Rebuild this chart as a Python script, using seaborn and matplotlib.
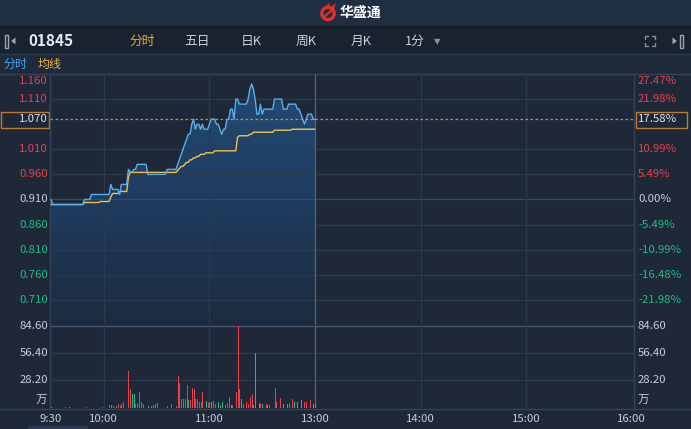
import numpy as np
import matplotlib
matplotlib.use("Agg")
import matplotlib.pyplot as plt
import seaborn as sns
import matplotlib.transforms as mtransforms
from matplotlib.patches import Rectangle, Polygon, Circle
from matplotlib.colors import LinearSegmentedColormap

# ---------------- data ----------------
stock_code = "01845"
prev_close = 0.91
last_price = 1.07
last_pct_label = "17.58%"
price_ticks = [1.160, 1.110, 1.010, 0.960, 0.910, 0.860, 0.810, 0.760, 0.710]
pct_labels = ["27.47%", "21.98%", "10.99%", "5.49%", "0.00%",
              "-5.49%", "-10.99%", "-16.48%", "-21.98%"]
vol_ticks = [84.60, 56.40, 28.20]
vol_tick_labels = ["84.60", "56.40", "28.20"]
vol_unit = "万"
time_ticks = [0, 30, 90, 150, 210, 270, 330]
time_labels = ["9:30", "10:00", "11:00", "13:00", "14:00", "15:00", "16:00"]
tabs = ["分时", "五日", "日K", "周K", "月K", "1分"]
legend_items = ["分时", "均线"]
brand = "华盛通"

minutes = list(range(151))
price = [
    0.91, 0.90, 0.90, 0.90, 0.90, 0.90, 0.90, 0.90, 0.90, 0.90,
    0.90, 0.90, 0.90, 0.90, 0.90, 0.90, 0.90, 0.90, 0.90, 0.91,
    0.91, 0.91, 0.91, 0.92, 0.92, 0.92, 0.92, 0.92, 0.92, 0.92,
    0.92, 0.92, 0.92, 0.92, 0.94, 0.93, 0.93, 0.93, 0.93, 0.92,
    0.94, 0.94, 0.94, 0.94, 0.97, 0.965, 0.965, 0.97, 0.97, 0.98,
    0.98, 0.98, 0.98, 0.98, 0.98, 0.96, 0.96, 0.96, 0.96, 0.96,
    0.96, 0.96, 0.96, 0.96, 0.96, 0.96, 0.97, 0.97, 0.97, 0.97,
    0.97, 0.97, 0.98, 0.99, 1.00, 1.01, 1.02, 1.03, 1.04, 1.04,
    1.06, 1.07, 1.05, 1.06, 1.06, 1.05, 1.06, 1.05, 1.05, 1.05,
    1.06, 1.07, 1.07, 1.07, 1.06, 1.06, 1.05, 1.04, 1.05, 1.05,
    1.07, 1.07, 1.09, 1.09, 1.07, 1.11, 1.11, 1.10, 1.10, 1.10,
    1.10, 1.10, 1.11, 1.13, 1.14, 1.13, 1.11, 1.08, 1.08, 1.10,
    1.08, 1.09, 1.09, 1.09, 1.09, 1.09, 1.09, 1.11, 1.11, 1.11,
    1.11, 1.11, 1.09, 1.09, 1.09, 1.10, 1.10, 1.10, 1.10, 1.10,
    1.09, 1.09, 1.08, 1.07, 1.06, 1.07, 1.08, 1.08, 1.08, 1.07,
    1.07,
]
avg_price = [
    0.900, 0.900, 0.900, 0.900, 0.900, 0.900, 0.900, 0.900, 0.900, 0.900,
    0.900, 0.900, 0.900, 0.900, 0.900, 0.900, 0.900, 0.900, 0.900, 0.904,
    0.904, 0.904, 0.904, 0.904, 0.904, 0.904, 0.904, 0.904, 0.906, 0.906,
    0.906, 0.906, 0.906, 0.906, 0.915, 0.922, 0.922, 0.922, 0.922, 0.926,
    0.926, 0.926, 0.926, 0.926, 0.955, 0.964, 0.964, 0.964, 0.964, 0.964,
    0.964, 0.964, 0.964, 0.964, 0.964, 0.964, 0.964, 0.964, 0.964, 0.964,
    0.964, 0.964, 0.964, 0.964, 0.964, 0.964, 0.964, 0.964, 0.964, 0.964,
    0.964, 0.964, 0.968, 0.972, 0.976, 0.976, 0.980, 0.984, 0.984, 0.989,
    0.989, 0.993, 0.993, 0.996, 0.996, 1.000, 1.000, 1.000, 1.003, 1.003,
    1.003, 1.003, 1.003, 1.007, 1.007, 1.007, 1.007, 1.007, 1.007, 1.007,
    1.007, 1.007, 1.007, 1.007, 1.007, 1.007, 1.034, 1.037, 1.037, 1.037,
    1.037, 1.037, 1.037, 1.040, 1.040, 1.044, 1.044, 1.044, 1.044, 1.044,
    1.044, 1.044, 1.044, 1.044, 1.044, 1.044, 1.044, 1.048, 1.048, 1.048,
    1.048, 1.048, 1.048, 1.048, 1.048, 1.048, 1.048, 1.050, 1.050, 1.050,
    1.050, 1.050, 1.050, 1.050, 1.050, 1.050, 1.050, 1.050, 1.050, 1.050,
    1.050,
]
vol_minute = [0, 8, 10, 20, 29, 33, 34, 35, 37, 38, 39, 40, 41, 44, 45, 46, 47, 48, 49, 50,
              51, 52, 55, 57, 58, 59, 60, 66, 68, 71, 72, 73, 74, 75, 76, 77, 78, 79, 80, 81,
              82, 83, 84, 85, 86, 88, 89, 90, 91, 92, 93, 95, 96, 97, 99, 100, 101, 102, 103, 105,
              106, 107, 108, 109, 111, 112, 113, 114, 115, 116, 118, 119, 120, 122, 123, 124, 127, 128, 130, 132,
              134, 135, 137, 138, 140, 142, 144, 145, 147, 149, 150]
vol_value = [1.0, 1.0, 1.0, 1.0, 1.0, 2.4, 2.4, 1.5, 1.7, 3.4, 2.0, 3.4, 5.2, 38.0, 19.0, 14.0, 14.0, 3.4, 5.0, 16.0,
             6.0, 3.4, 1.7, 1.5, 2.4, 3.4, 4.5, 1.7, 3.4, 1.7, 32.7, 25.8, 9.3, 8.6, 8.6, 23.4, 7.6, 7.6, 20.6, 19.0,
             9.3, 8.6, 5.2, 5.2, 16.5, 6.9, 4.5, 5.2, 5.8, 6.9, 4.1, 5.2, 2.4, 5.2, 2.4, 4.5, 11.4, 2.4, 2.4, 16.5,
             84.6, 19.0, 8.6, 3.4, 5.8, 3.4, 11.0, 13.8, 2.4, 56.1, 4.5, 3.4, 3.4, 3.4, 2.4, 2.4, 20.6, 5.2, 10.0, 3.4,
             3.4, 4.5, 9.3, 5.2, 5.2, 7.6, 5.8, 5.2, 7.6, 3.4, 2.4]
vol_up = [0, 1, 1, 1, 1, 1, 1, 1, 0, 1, 1, 1, 1, 1, 1, 0, 0, 1, 1, 1,
          1, 1, 0, 1, 1, 1, 1, 1, 1, 1, 1, 1, 1, 1, 1, 1, 0, 1, 1, 1,
          1, 1, 1, 1, 1, 0, 1, 1, 0, 1, 1, 0, 1, 0, 1, 1, 1, 0, 1, 1,
          1, 1, 0, 1, 1, 1, 1, 1, 0, 0, 0, 1, 0, 1, 0, 1, 1, 1, 1, 0,
          0, 1, 1, 0, 0, 0, 1, 1, 1, 0, 0]

# ---------------- style ----------------
sns.set_style("dark")
plt.rcParams['font.family'] = ['Noto Sans CJK SC', 'DejaVu Sans']

BG = '#1e2838'
HEAD = '#202e42'
TOOL = '#19222f'
ROW3 = '#1f2a3b'
GRID = '#2c3a4d'
FRAME = '#34445a'
TXT = '#c6cfda'
RED = '#e5424c'
GREEN = '#1bc07f'
BLUE = '#5aaeee'
YEL = '#f0c24c'
ORANGE = '#df8a2e'
FS = 8.2

W, H = 691, 429
fig = plt.figure(figsize=(W / 100, H / 100), dpi=100)
fig.patch.set_facecolor(BG)


def box(l, t, r, b):
    return [l / W, 1 - b / H, (r - l) / W, (b - t) / H]


# background / chrome axes in pixel coordinates
bg = fig.add_axes([0, 0, 1, 1])
bg.set_xlim(0, W)
bg.set_ylim(H, 0)
bg.axis('off')
bg.add_patch(Rectangle((0, 0), W, 26, color=HEAD, lw=0))
bg.add_patch(Rectangle((0, 26), W, 28, color=TOOL, lw=0))
bg.add_patch(Rectangle((0, 54), W, 20, color=ROW3, lw=0))
bg.add_patch(Rectangle((0, 74), W, H - 74, color=BG, lw=0))
bg.plot([0, W], [26, 26], color='#121a25', lw=1)
bg.plot([0, W], [54, 54], color='#2a384b', lw=1)
bg.plot([0, W], [73.5, 73.5], color=FRAME, lw=1)
bg.plot([0, W], [409, 409], color=FRAME, lw=1)
bg.plot([50, 50], [73.5, 409], color=FRAME, lw=1)
bg.plot([634, 634], [73.5, 409], color=FRAME, lw=1)
bg.add_patch(Rectangle((28, 426), 60, 3, color='#2b3a50', lw=0))

# brand logo
bg.add_patch(Circle((328, 13.5), 6.2, fill=False, edgecolor='#e3302b', lw=2.3))
bg.add_patch(Polygon([(330, 8), (336, 3), (334, 9)], color='#e3302b', lw=0))
bg.add_patch(Polygon([(326, 7.5), (329, 2.5), (330, 8)], color='#e3302b', lw=0))
bg.plot([324, 332], [17, 10], color='#e3302b', lw=1.5)
bg.text(340, 13, brand, color='white', fontsize=10, fontweight='bold', ha='left', va='center')

# toolbar
bg.add_patch(Rectangle((5, 34.5), 3, 13, fill=False, edgecolor='#9aa6b5', lw=1))
bg.add_patch(Polygon([(11, 41), (15.5, 37.5), (15.5, 44.5)], color='#9aa6b5', lw=0))
bg.text(28, 41.5, stock_code, color='#e6ebf1', fontsize=11, fontweight='bold', ha='left', va='center')
tab_x = [142, 197, 251, 306, 361, 415]
for i, (tx, t) in enumerate(zip(tab_x, tabs)):
    bg.text(tx, 41.5, t, color=('#f5a623' if i == 0 else '#c9d1dc'), fontsize=9.2,
            ha='center', va='center')
bg.text(437, 42, "▼", color='#8693a3', fontsize=6, ha='center', va='center',
        family=['DejaVu Sans'])
# right icons
for (cx, cy, dx, dy) in [(645, 36, 1, 1), (655, 36, -1, 1), (645, 46, 1, -1), (655, 46, -1, -1)]:
    bg.plot([cx, cx + 3 * dx], [cy, cy], color='#8893a2', lw=1)
    bg.plot([cx, cx], [cy, cy + 3 * dy], color='#8893a2', lw=1)
bg.add_patch(Polygon([(677, 41), (672.5, 37.5), (672.5, 44.5)], color='#9aa6b5', lw=0))
bg.add_patch(Rectangle((680, 34.5), 3, 13, fill=False, edgecolor='#9aa6b5', lw=1))

# legend row
bg.text(4, 64, legend_items[0], color='#4aa3ee', fontsize=8.6, ha='left', va='center')
bg.text(38, 64, legend_items[1], color='#f0b33a', fontsize=8.6, ha='left', va='center')

# ---------------- price panel ----------------
x_lo = (50 - 51) / 1.76
x_hi = (634 - 51) / 1.76
p_lo, p_hi = 0.66, 1.16

ax_p = fig.add_axes(box(50, 74, 634, 325))
ax_p.set_facecolor('none')
for s in ax_p.spines.values():
    s.set_visible(False)

# gradient fill under price line
verts = [(minutes[0], p_lo)] + list(zip(minutes, price)) + [(minutes[-1], p_lo)]
poly = Polygon(verts, closed=True, facecolor='none', edgecolor='none')
ax_p.add_patch(poly)
cmap = LinearSegmentedColormap.from_list('fillg', ['#1c2b3f', '#1f3c5f', '#244a74'])
grad = np.linspace(0, 1, 256).reshape(-1, 1)
im = ax_p.imshow(grad, extent=[minutes[0], minutes[-1], p_lo, 1.15], origin='lower',
                 aspect='auto', cmap=cmap, zorder=1, interpolation='bilinear')
im.set_clip_path(poly)

for v in price_ticks[1:]:
    ax_p.axhline(v, color=('#3b4a5f' if v == prev_close else GRID), lw=0.9, zorder=2)
for t in time_ticks[1:-1]:
    ax_p.axvline(t, color=('#56657a' if t == 150 else GRID), lw=0.9, zorder=2)

sns.lineplot(x=minutes, y=avg_price, ax=ax_p, color=YEL, lw=1.0, zorder=4)
sns.lineplot(x=minutes, y=price, ax=ax_p, color=BLUE, lw=1.0, zorder=5)
ax_p.axhline(last_price, color=ORANGE, lw=0.9, ls=(0, (2, 2)), zorder=6)

ax_p.set_xlim(x_lo, x_hi)
ax_p.set_ylim(p_lo, p_hi)
ax_p.set_xticks([])
ax_p.set_yticks([])
ax_p.set_xlabel('')
ax_p.set_ylabel('')

ytr = ax_p.get_yaxis_transform()
xl = (48 - 50) / 584
xr = (638 - 50) / 584
for v, pl in zip(price_ticks, pct_labels):
    col = RED if v > prev_close + 1e-9 else (GREEN if v < prev_close - 1e-9 else TXT)
    tr = ytr
    if v == p_hi:
        tr = mtransforms.offset_copy(ytr, fig=fig, y=-7.5, units='dots')
    ax_p.text(xl, v, f"{v:.3f}", color=col, fontsize=FS, ha='right', va='center',
              transform=tr, clip_on=False)
    ax_p.text(xr, v, pl, color=col, fontsize=FS, ha='left', va='center',
              transform=tr, clip_on=False)
# current price boxes
ax_p.text(xl, last_price, f"{last_price:.3f}", color='#dde3ea', fontsize=FS, ha='right',
          va='center', transform=ytr, clip_on=False)
ax_p.text(xr, last_price, last_pct_label, color='#dde3ea', fontsize=FS, ha='left',
          va='center', transform=ytr, clip_on=False)
bg.add_patch(Rectangle((0.5, 111.5), 49, 16, fill=False, edgecolor='#c27a2c', lw=1))
bg.add_patch(Rectangle((636.5, 111.5), 51, 16, fill=False, edgecolor='#c27a2c', lw=1))

# ---------------- volume panel ----------------
ax_v = fig.add_axes(box(50, 326, 634, 407.5))
ax_v.set_facecolor('none')
for s in ax_v.spines.values():
    s.set_visible(False)
for v in vol_ticks[1:]:
    ax_v.axhline(v, color=GRID, lw=0.9, zorder=1)
for t in time_ticks[1:-1]:
    ax_v.axvline(t, color=('#56657a' if t == 150 else GRID), lw=0.9, zorder=1)
bar_cols = [RED if u else GREEN for u in vol_up]
ax_v.vlines(vol_minute, 0, vol_value, colors=bar_cols, lw=0.7, zorder=3, antialiased=False)
ax_v.set_xlim(x_lo, x_hi)
ax_v.set_ylim(0, vol_ticks[0])
ax_v.set_xticks([])
ax_v.set_yticks([])
bg.plot([50, 634], [326, 326], color='#4a586c', lw=1)

vtr = ax_v.get_yaxis_transform()
for v, lab in zip(vol_ticks, vol_tick_labels):
    ax_v.text(xl, v, lab, color=TXT, fontsize=FS, ha='right', va='center',
              transform=vtr, clip_on=False)
    ax_v.text(xr, v, lab, color=TXT, fontsize=FS, ha='left', va='center',
              transform=vtr, clip_on=False)
bg.text(47, 400, vol_unit, color=TXT, fontsize=FS, ha='right', va='center')
bg.text(638, 400, vol_unit, color=TXT, fontsize=FS, ha='left', va='center')

# time axis labels
xtr = ax_v.get_xaxis_transform()
for t, lab in zip(time_ticks, time_labels):
    ax_v.text(t, 0, lab, color=TXT, fontsize=FS, ha='center', va='center',
              transform=mtransforms.offset_copy(xtr, fig=fig, y=-11.5, units='dots'),
              clip_on=False)

fig.savefig("out.png", dpi=100, facecolor=fig.get_facecolor())
